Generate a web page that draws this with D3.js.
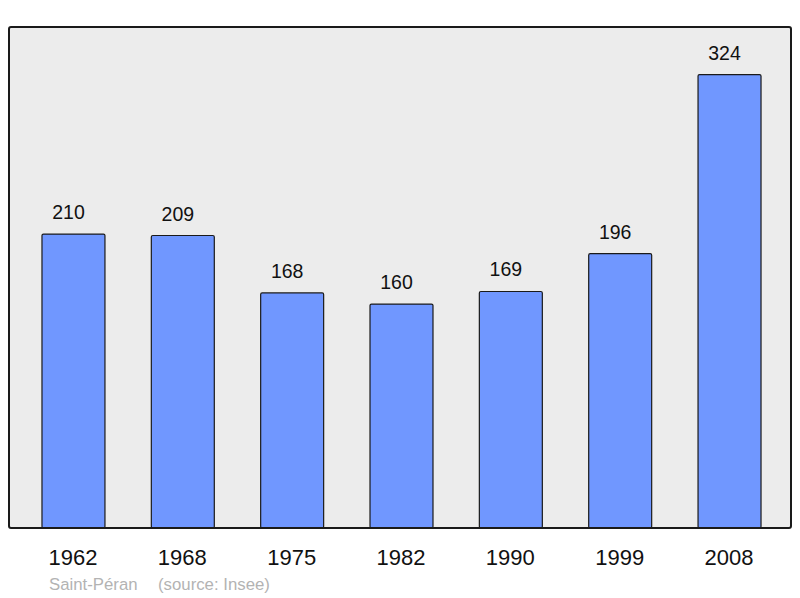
<!DOCTYPE html>
<html>
<head>
<meta charset="utf-8">
<script src="https://cdn.jsdelivr.net/npm/d3@7"></script>
<style>
  body { margin: 0; background: #fff; }
  text { font-family: "Liberation Sans", Arial, sans-serif; }
</style>
</head>
<body>
<div id="chart"></div>
<script>
// population data
const years = ["1962", "1968", "1975", "1982", "1990", "1999", "2008"];
const population = [210, 209, 168, 160, 169, 196, 324];
const place = "Saint-Péran";
const source = "(source: Insee)";

const width = 800, height = 598;

const frame = { left: 9, top: 27, right: 791, bottom: 528 };

const svg = d3.select("#chart")
  .append("svg")
  .attr("width", width)
  .attr("height", height);

//scales
const x = d3.scaleBand()
  .domain(years)
  .range([18.8, 784.2])
  .paddingInner(0.424)
  .paddingOuter(0.212);

const y = d3.scaleLinear()
  .domain([0, 358])
  .range([frame.bottom, frame.top]);

//plot background
svg.append("rect")
  .attr("x", frame.left)
  .attr("y", frame.top)
  .attr("width", frame.right - frame.left)
  .attr("height", frame.bottom - frame.top)
  .attr("rx", 2)
  .attr("fill", "#ececec");

//bars
svg.selectAll(".bar")
  .data(population)
  .enter().append("rect")
    .attr("class", "bar")
    .attr("x", (d, i) => x(years[i]))
    .attr("y", d => y(d))
    .attr("width", x.bandwidth())
    .attr("height", d => y(0) - y(d))
    .attr("rx", 1.5)
    .attr("fill", "#7097ff")
    .attr("stroke", "#1a1a1a")
    .attr("stroke-width", 1.2);

//value labels (sit a bit left of the bar centre, as in the original)
svg.selectAll(".value")
  .data(population)
  .enter().append("text")
    .attr("class", "value")
    .attr("x", (d, i) => x(years[i]) + x.bandwidth() / 2 - 5)
    .attr("y", d => y(d) - 15)
    .attr("text-anchor", "middle")
    .attr("font-size", 19.5)
    .attr("fill", "#111")
    .text(d => d);

//frame border on top of the bars
svg.append("rect")
  .attr("x", frame.left)
  .attr("y", frame.top)
  .attr("width", frame.right - frame.left)
  .attr("height", frame.bottom - frame.top)
  .attr("rx", 2)
  .attr("fill", "none")
  .attr("stroke", "#1a1a1a")
  .attr("stroke-width", 2);

//year labels
svg.selectAll(".year")
  .data(years)
  .enter().append("text")
    .attr("class", "year")
    .attr("x", d => x(d) + x.bandwidth() / 2 - 0.5)
    .attr("y", 565)
    .attr("text-anchor", "middle")
    .attr("font-size", 22)
    .attr("fill", "#111")
    .text(d => d);

//source line
svg.append("text")
  .attr("x", 49)
  .attr("y", 590)
  .attr("font-size", 16.8)
  .attr("fill", "#b3b3b3")
  .text(place);

svg.append("text")
  .attr("x", 158)
  .attr("y", 590)
  .attr("font-size", 16.8)
  .attr("fill", "#b3b3b3")
  .text(source);
</script>
</body>
</html>
